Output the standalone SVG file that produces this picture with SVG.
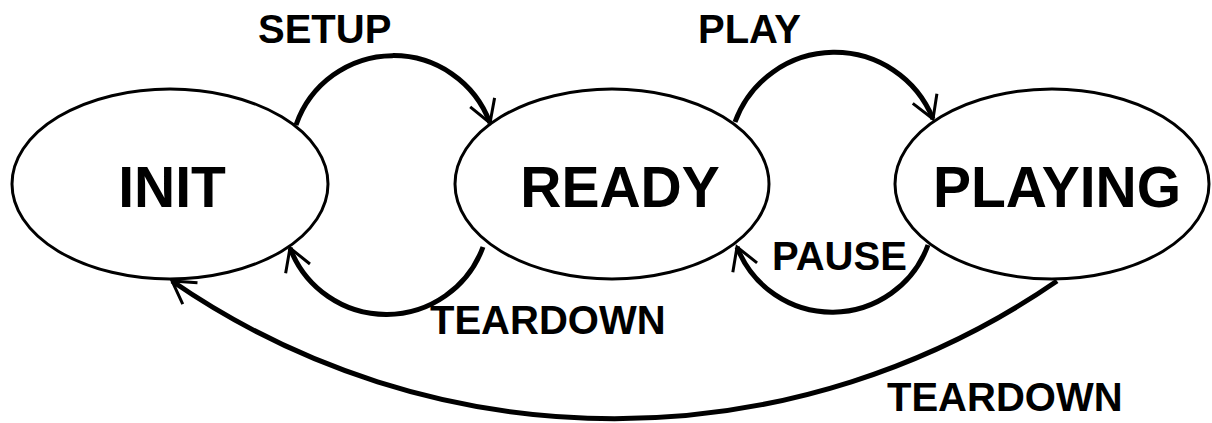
<svg xmlns="http://www.w3.org/2000/svg" width="1212" height="423" viewBox="0 0 1212 423">
<style>
.node{fill:#fff;stroke:#000;stroke-width:3}
.nt{font-family:"Liberation Sans",Arial,sans-serif;font-weight:bold;font-size:57px;text-anchor:middle;fill:#000}
.lbl{font-family:"Liberation Sans",Arial,sans-serif;font-weight:bold;font-size:40px;fill:#000}
.edge{fill:none;stroke:#000;stroke-width:5;marker-end:url(#arr)}
</style>
<defs>
<marker id="arr" markerUnits="userSpaceOnUse" orient="auto" refX="0" refY="0" markerWidth="40" markerHeight="40" viewBox="-30 -20 40 40" overflow="visible">
<path d="M -22 -13 L 0 0 L -22 13" fill="none" stroke="#000" stroke-width="3"/>
</marker>
</defs>
<rect width="1212" height="423" fill="#fff"/>
<g id="node-init">
<ellipse class="node" cx="170" cy="184" rx="158" ry="95"/>
<text class="nt" x="172" y="207">INIT</text>
</g>
<g id="node-ready">
<ellipse class="node" cx="612" cy="184" rx="157" ry="95"/>
<text class="nt" x="620" y="207">READY</text>
</g>
<g id="node-playing">
<ellipse class="node" cx="1052" cy="184" rx="157" ry="95"/>
<text class="nt" x="1057" y="207">PLAYING</text>
</g>
<g id="connectors">
<path class="edge" d="M 296 125 A 103 103 0 0 1 490 123"/>
<path class="edge" d="M 735 122 A 106 106 0 0 1 933 119"/>
<path class="edge" d="M 928 245 A 102 102 0 0 1 737 247"/>
<path class="edge" d="M 483 247 A 103 103 0 0 1 290 248"/>
<path class="edge" d="M 1057 281 A 780 780 0 0 1 172 281"/>
<text class="lbl" x="258" y="43">SETUP</text>
<text class="lbl" x="698" y="43">PLAY</text>
<text class="lbl" x="772" y="270">PAUSE</text>
<text class="lbl" x="430" y="334">TEARDOWN</text>
<text class="lbl" x="887" y="411">TEARDOWN</text>
</g>
</svg>
